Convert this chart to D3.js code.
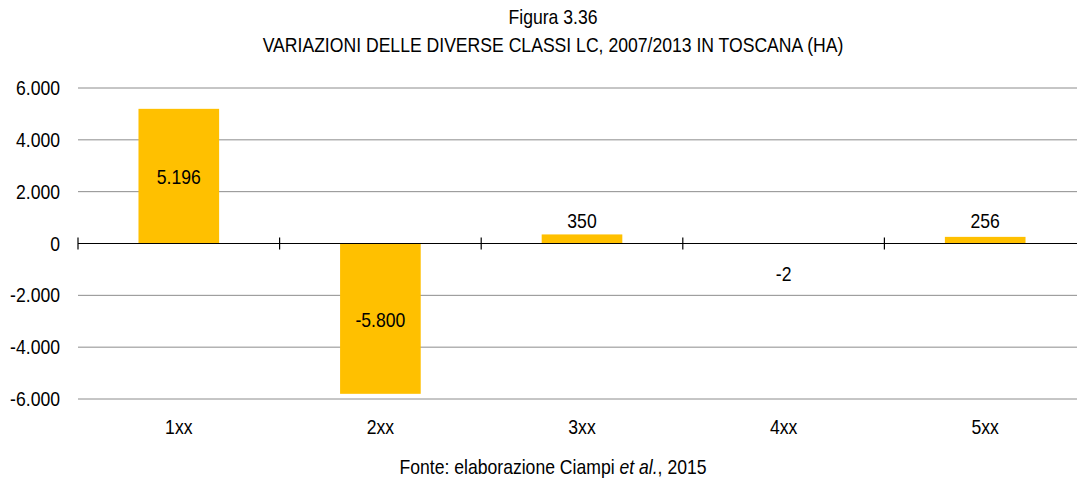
<!DOCTYPE html>
<html lang="it">
<head>
	<meta charset="UTF-8">
	<script src="https://cdn.jsdelivr.net/npm/d3@7"></script>
	<title>Figura 3.36</title>
	<style>
		body {
			margin: 0;
			background: white;
			font-family: "Liberation Sans", Arial, sans-serif;
		}
		svg text {
			fill: #000;
			font-size: 20px;
		}
	</style>
</head>
<body>
	<script>
		// classi LC e variazioni 2007/2013 (ha)
		const classi = ["1xx", "2xx", "3xx", "4xx", "5xx"];
		const variazioni = [5196, -5800, 350, -2, 256];
		const yTicks = [-6000, -4000, -2000, 0, 2000, 4000, 6000];

		const W = 1077, H = 479;
		const plot = { left: 78, right: 1086, top: 88, bottom: 399 };
		const narrow = 0.88; // the original uses a condensed face

		const it = d3.formatLocale({ decimal: ",", thousands: ".", grouping: [3], currency: ["€", ""], minus: "-" });
		const fmt = it.format(",d");

		const svg = d3.select("body").append("svg")
			.attr("width", W)
			.attr("height", H);

		// place a text at (x, y), squeezed horizontally
		const at = (px, py) => `translate(${px},${py}) scale(${narrow},1)`;

		const x = d3.scaleBand()
			.domain(classi)
			.range([plot.left, plot.right])
			.paddingInner(0.6)
			.paddingOuter(0.3);

		const y = d3.scaleLinear()
			.domain([-6000, 6000])
			.range([plot.bottom, plot.top]);

		// titolo
		svg.append("text")
			.attr("transform", at(553, 24))
			.attr("text-anchor", "middle")
			.text("Figura 3.36");
		svg.append("text")
			.attr("transform", at(553, 52))
			.attr("text-anchor", "middle")
			.text("VARIAZIONI DELLE DIVERSE CLASSI LC, 2007/2013 IN TOSCANA (HA)");

		// griglia
		svg.append("g")
			.selectAll("line")
			.data(yTicks.filter(d => d !== 0))
			.join("line")
			.attr("x1", plot.left).attr("x2", W)
			.attr("y1", d => y(d)).attr("y2", d => y(d))
			.attr("stroke", "#8c8c8c")
			.attr("stroke-width", 1);

		// etichette asse y
		svg.append("g")
			.selectAll("text")
			.data(yTicks)
			.join("text")
			.attr("transform", d => at(60, y(d) + 7))
			.attr("text-anchor", "end")
			.text(d => fmt(d));

		// barre
		svg.append("g")
			.selectAll("rect")
			.data(variazioni)
			.join("rect")
			.attr("x", (d, i) => x(classi[i]))
			.attr("width", x.bandwidth())
			.attr("y", d => y(Math.max(0, d)))
			.attr("height", d => Math.abs(y(d) - y(0)))
			.attr("fill", "#ffc000");

		// asse dello zero con tacche
		svg.append("line")
			.attr("x1", plot.left).attr("x2", W)
			.attr("y1", y(0)).attr("y2", y(0))
			.attr("stroke", "#000")
			.attr("stroke-width", 1.2);
		const tickPos = d3.range(classi.length + 1).map(i => plot.left + i * (plot.right - plot.left) / classi.length);
		svg.append("g")
			.selectAll("line")
			.data(tickPos)
			.join("line")
			.attr("x1", d => d).attr("x2", d => d)
			.attr("y1", y(0) - 6).attr("y2", y(0) + 6)
			.attr("stroke", "#000")
			.attr("stroke-width", 1.2);

		// etichette categorie
		svg.append("g")
			.selectAll("text")
			.data(classi)
			.join("text")
			.attr("transform", d => at(x(d) + x.bandwidth() / 2, 434))
			.attr("text-anchor", "middle")
			.text(d => d);

		// etichette valori
		svg.append("g")
			.selectAll("text")
			.data(variazioni)
			.join("text")
			.attr("transform", (d, i) => {
				const cx = x(classi[i]) + x.bandwidth() / 2;
				let cy;
				if (Math.abs(d) > 1000) cy = (y(d) + y(0)) / 2 + 8;
				else cy = d >= 0 ? 228 : y(0) + 37;
				return at(cx, cy);
			})
			.attr("text-anchor", "middle")
			.text(d => fmt(d));

		// fonte
		const fonte = svg.append("text")
			.attr("transform", at(553, 474))
			.attr("text-anchor", "middle");
		fonte.append("tspan").text("Fonte: elaborazione Ciampi ");
		fonte.append("tspan").style("font-style", "italic").text("et al.");
		fonte.append("tspan").text(", 2015");
	</script>
</body>
</html>
